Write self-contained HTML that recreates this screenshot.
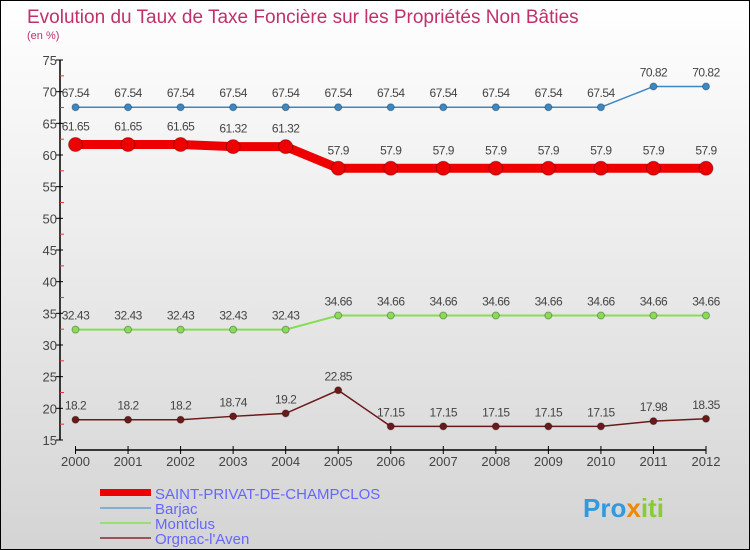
<!DOCTYPE html>
<html><head><meta charset="utf-8"><style>
body{margin:0;}
#c{width:750px;height:550px;position:relative;overflow:hidden;font-family:"Liberation Sans",sans-serif;}
</style></head><body>
<div id="c">
<svg width="750" height="550" id="svg">
<defs><linearGradient id="bg" x1="0" y1="0" x2="0" y2="1"><stop offset="0" stop-color="#ffffff"/><stop offset="1" stop-color="#d4d4d4"/></linearGradient></defs>
<rect x="0.5" y="0.5" width="749" height="549" fill="url(#bg)" stroke="#000"/>
<text x="27" y="23" font-size="19" fill="#c0306a">Evolution du Taux de Taxe Foncière sur les Propriétés Non Bâties</text>
<text x="27" y="39" font-size="11" fill="#c0306a">(en %)</text>
<g id="axes"></g><g id="series"></g>
<g>
<rect x="100" y="489" width="51" height="7" fill="#ee0000"/>
<text x="155" y="499" font-size="15" fill="#6666ff">SAINT-PRIVAT-DE-CHAMPCLOS</text>
<rect x="100" y="507" width="51" height="2" fill="#7fb0d0"/>
<text x="155" y="514" font-size="15" fill="#6666ff">Barjac</text>
<rect x="100" y="522" width="51" height="2" fill="#99dd77"/>
<text x="155" y="529" font-size="15" fill="#6666ff">Montclus</text>
<rect x="100" y="537" width="51" height="2" fill="#995555"/>
<text x="155" y="544" font-size="15" fill="#6666ff">Orgnac-l'Aven</text>
</g>
<text x="583" y="517" font-size="26" font-weight="bold" fill="#3399dd">Pro<tspan fill="#ee8800">x</tspan><tspan fill="#88cc33">iti</tspan></text>
</svg>
</div>
<script>
const years=[2000,2001,2002,2003,2004,2005,2006,2007,2008,2009,2010,2011,2012];
const yTicks=[15,20,25,30,35,40,45,50,55,60,65,70,75];
const saint=[61.65,61.65,61.65,61.32,61.32,57.9,57.9,57.9,57.9,57.9,57.9,57.9,57.9];
const barjac=[67.54,67.54,67.54,67.54,67.54,67.54,67.54,67.54,67.54,67.54,67.54,70.82,70.82];
const montclus=[32.43,32.43,32.43,32.43,32.43,34.66,34.66,34.66,34.66,34.66,34.66,34.66,34.66];
const orgnac=[18.2,18.2,18.2,18.74,19.2,22.85,17.15,17.15,17.15,17.15,17.15,17.98,18.35];
const NS="http://www.w3.org/2000/svg";
const X=i=>75.5+i*(706-75.5)/(years.length-1);
const Y=v=>440-(v-15)*380/60;
function mk(t,a,p){const e=document.createElementNS(NS,t);for(const k in a)e.setAttribute(k,a[k]);p.appendChild(e);return e;}
const ax=document.getElementById('axes');
let e=mk('line',{x1:60,y1:60,x2:60,y2:440,stroke:'#000','stroke-width':1.5},ax);


yTicks.forEach(v=>{
 const t=mk('line',{x1:56,y1:Y(v),x2:63,y2:Y(v),stroke:'#000'},ax);
 
 
 const l=mk('text',{x:57,y:Y(v)+5,'font-size':13,fill:'#444','text-anchor':'end'},ax);
 l.textContent=v;
 
 
 if(v<75){const m=mk('line',{x1:60,y1:Y(v+2.5),x2:64,y2:Y(v+2.5),stroke:'#e33'},ax);
 
 }
});
e=mk('line',{x1:75,y1:450,x2:706,y2:450,stroke:'#000','stroke-width':1.5},ax);


years.forEach((y,i)=>{
 const t=mk('line',{x1:X(i),y1:446,x2:X(i),y2:454,stroke:'#000'},ax);
 
 
 const l=mk('text',{x:X(i),y:466,'font-size':13,fill:'#444','text-anchor':'middle'},ax);
 l.textContent=y;
 
 
});
const sg=document.getElementById('series');
function series(vals,color,w,r,name){
 const g=mk('g',{},sg);
 
 
 const p=mk('polyline',{points:vals.map((v,i)=>X(i)+','+Y(v)).join(' '),fill:'none',stroke:color,'stroke-width':w},g);
 
 
 vals.forEach((v,i)=>{
  const c=mk('circle',{cx:X(i),cy:Y(v),r:r,fill:color,stroke:'rgba(0,0,0,0.3)'},g);
  
  
  const l=mk('text',{x:X(i),y:Y(v)-10-(r>5?4:0),'font-size':12,fill:'#444','text-anchor':'middle','letter-spacing':'-0.5'},g);
  l.textContent=v;
  
  
 });
}
series(barjac,'#3a88c4',1.5,3.5,'barjac');
series(montclus,'#88dd55',2,3.5,'montclus');
series(orgnac,'#6b1a1a',1.5,3.5,'orgnac');
series(saint,'#ee0000',9,7,'saint-privat');
</script>
</body></html>
